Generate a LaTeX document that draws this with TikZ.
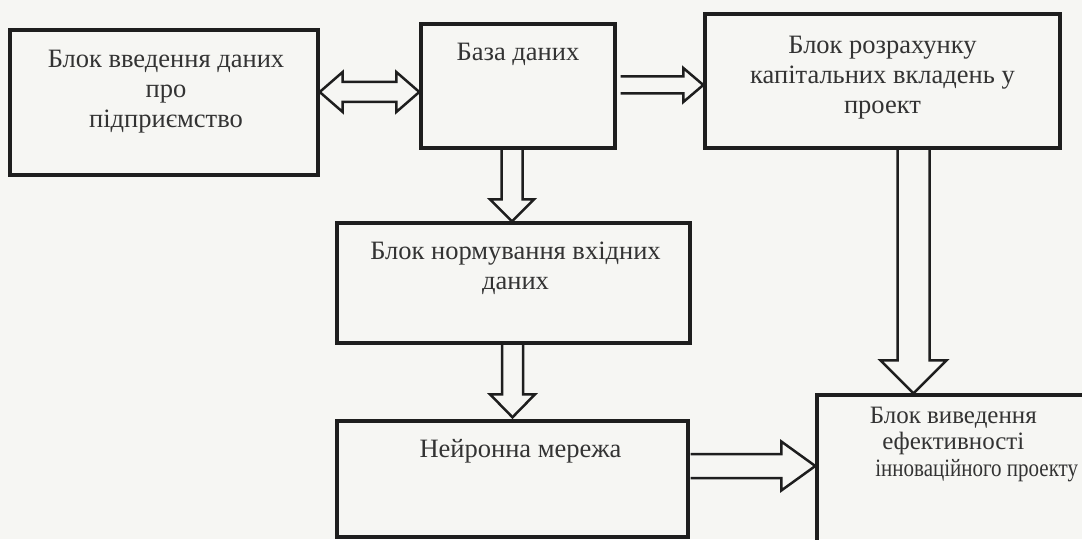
\documentclass[tikz,border=0pt]{standalone}
\usepackage{fontspec}
\setmainfont{Liberation Serif}
\usetikzlibrary{calc}
\pgfdeclarelayer{arrowlayer}
\pgfsetlayers{arrowlayer,main}
\definecolor{paper}{HTML}{F6F6F3}
\definecolor{ink}{HTML}{1E1E1E}
\definecolor{txtc}{HTML}{333333}
\tikzset{
  blockbox/.style={draw=ink, line width=3.4pt, rectangle, inner sep=0pt},
  blocktxt/.style={text=txtc, align=center, inner sep=0pt, font=\fontsize{26.5}{30}\selectfont},
  barrow/.style={draw=ink, line width=2.5pt, fill=paper, line join=miter}
}
\newcommand\barrowH[5]{%
  \draw[barrow] ($(#1)+(0,#3)$) -- ($(#2)+(-#5,#3)$) -- ($(#2)+(-#5,#4)$) -- (#2)
    -- ($(#2)+(-#5,-#4)$) -- ($(#2)+(-#5,-#3)$) -- ($(#1)+(0,-#3)$);}
\newcommand\barrowV[5]{%
  \draw[barrow] ($(#1)+(-#3,0)$) -- ($(#2)+(-#3,#5)$) -- ($(#2)+(-#4,#5)$) -- (#2)
    -- ($(#2)+(#4,#5)$) -- ($(#2)+(#3,#5)$) -- ($(#1)+(#3,0)$);}
\begin{document}
\begin{tikzpicture}[x=1pt,y=1pt]
\useasboundingbox (0,0) rectangle (1082,539);
\clip (0,0) rectangle (1082,539);
\begin{pgfonlayer}{arrowlayer}
\fill[paper] (0,0) rectangle (1082,539);
\end{pgfonlayer}

% boxes
\node[blockbox, minimum width=308pt, minimum height=145pt] (b1) at (164,436.5) {};
\node[blockbox, minimum width=194pt, minimum height=124pt] (b2) at (518,453) {};
\node[blockbox, minimum width=355pt, minimum height=134pt] (b3) at (882.5,458) {};
\node[blockbox, minimum width=353pt, minimum height=120pt] (b4) at (513.5,256) {};
\node[blockbox, minimum width=351pt, minimum height=116pt] (b5) at (512.5,60) {};
\node[blockbox, minimum width=333pt, minimum height=165pt] (b6) at (983.5,61.5) {};

% texts
\node[blocktxt] (t1) at ($(b1.north)+(2,-63)$) {Блок введення даних\\про\\підприємство};
\node[blocktxt] (t2) at ($(b2.north)+(0,-32)$) {База даних};
\node[blocktxt] (t3) at ($(b3.north)+(0,-65)$) {Блок розрахунку\\капітальних вкладень у\\проект};
\node[blocktxt] (t4) at ($(b4.north)+(2,-47)$) {Блок нормування вхідних\\даних};
\node[blocktxt] (t5) at ($(b5.north)+(8,-32)$) {Нейронна мережа};
\node[blocktxt, font=\fontsize{25}{30}\selectfont] (t6a) at ($(b6.north west)+(138,-24)$) {Блок виведення};
\node[blocktxt, font=\fontsize{25}{30}\selectfont] (t6b) at ($(b6.north west)+(138,-50)$) {ефективності};
\node[blocktxt, font=\fontsize{25}{30}\selectfont, anchor=east] (t6c) at ($(b6.north west)+(263,-77)$) {\scalebox{0.84}[1]{інноваційного проекту}};

% connectors: block arrows (behind the boxes)
\begin{pgfonlayer}{arrowlayer}
% double arrow b1 <-> b2
\coordinate (dl) at ($(b1.east)+(0,10.5)$);
\coordinate (dr) at (b2.west |- dl);
\draw[barrow] (dl) -- ($(dl)+(23,20)$) -- ($(dl)+(23,10)$) -- ($(dr)+(-23,10)$)
  -- ($(dr)+(-23,20)$) -- (dr) -- ($(dr)+(-23,-20)$) -- ($(dr)+(-23,-10)$)
  -- ($(dl)+(23,-10)$) -- ($(dl)+(23,-20)$) -- cycle;

% b2 -> b3
\coordinate (a23) at ($(b2.east)+(4,1)$);
\coordinate (a23t) at (b3.west |- a23);
\barrowH{a23}{a23t}{8.5}{17}{20}

% b2 -> b4
\coordinate (a24) at ($(b2.south)+(-6,0)$);
\coordinate (a24t) at (a24 |- b4.north);
\barrowV{a24}{a24t}{10.5}{22}{22}

% b4 -> b5
\coordinate (a45) at ($(b4.south)+(-1,0)$);
\coordinate (a45t) at ($(a45 |- b5.north)+(0,2)$);
\barrowV{a45}{a45t}{10.5}{22.5}{23}

% b3 -> b6
\coordinate (a36) at ($(b3.south)+(31,0)$);
\coordinate (a36t) at (a36 |- b6.north);
\barrowV{a36}{a36t}{16}{33}{33}

% b5 -> b6
\coordinate (a56) at ($(b5.east)+(1,13)$);
\coordinate (a56t) at (b6.west |- a56);
\barrowH{a56}{a56t}{12}{24.5}{34}
\end{pgfonlayer}
\end{tikzpicture}
\end{document}
